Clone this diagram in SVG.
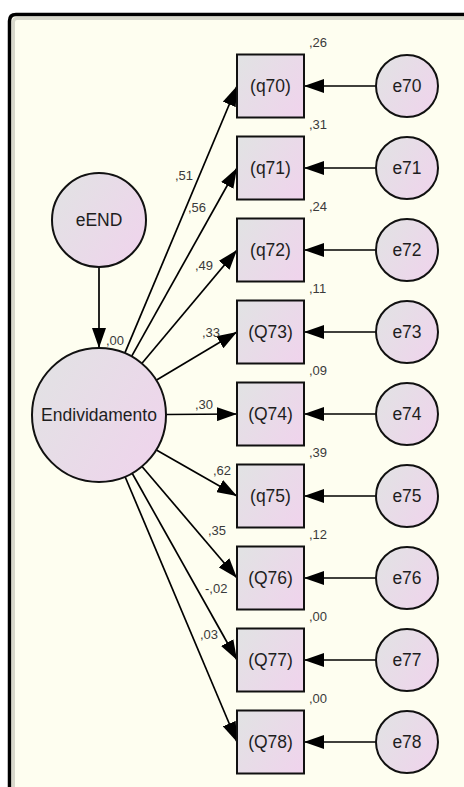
<svg xmlns="http://www.w3.org/2000/svg" width="464" height="787" viewBox="0 0 464 787">
  <style>
    .node { stroke: #111; stroke-width: 2; fill: url(#nodeFill); }
    .lbl { font-family: "Liberation Sans", Arial, sans-serif; font-size: 17.5px; fill: #1e1e1e; text-anchor: middle; dominant-baseline: central; }
    .num { font-family: "Liberation Sans", Arial, sans-serif; font-size: 13px; fill: #3a3a3a; }
    .path { stroke: #000; stroke-width: 1.7; fill: none; marker-end: url(#head); }
  </style>
  <defs>
    <linearGradient id="nodeFill" x1="0" y1="0.2" x2="1" y2="0.8">
      <stop offset="0" stop-color="#e2e2e4"/>
      <stop offset="1" stop-color="#efd4ec"/>
    </linearGradient>
    <marker id="head" viewBox="0 0 20 14" refX="20" refY="7" markerWidth="20" markerHeight="14" markerUnits="userSpaceOnUse" orient="auto">
      <path d="M0,0 L20,7 L0,14 Z" fill="#000"/>
    </marker>
  </defs>

  <!-- page and frame -->
  <rect x="0" y="0" width="464" height="787" fill="#ffffff"/>
  <path d="M9.5,790 V21 Q9.5,14.5 16,14.5 H470 V790 Z" fill="#fefef0"/>
  <path d="M13.5,790 V22 Q13.5,18.5 17,18.5 H470" fill="none" stroke="#c8c8bc" stroke-width="3" opacity="0.7"/>
  <path d="M9.5,790 V21 Q9.5,14.5 16,14.5 H470" fill="none" stroke="#000" stroke-width="3.5"/>

  <!-- connectors -->
  <g id="connectors">
    <line class="path" x1="99" y1="267" x2="99" y2="348"/>
    <line class="path" x1="124.8" y1="353.2" x2="237" y2="86"/>
    <line class="path" x1="131.6" y1="356.4" x2="237" y2="168"/>
    <line class="path" x1="141.8" y1="363.5" x2="237" y2="250"/>
    <line class="path" x1="156.2" y1="380.2" x2="237" y2="332"/>
    <line class="path" x1="166" y1="414.5" x2="237" y2="414"/>
    <line class="path" x1="156.4" y1="450" x2="237" y2="496"/>
    <line class="path" x1="142" y1="466.5" x2="237" y2="578"/>
    <line class="path" x1="132" y1="473" x2="237" y2="660"/>
    <line class="path" x1="125" y1="476.5" x2="237" y2="742"/>
    <line class="path" x1="376" y1="86" x2="304" y2="86"/>
    <line class="path" x1="376" y1="168" x2="304" y2="168"/>
    <line class="path" x1="376" y1="250" x2="304" y2="250"/>
    <line class="path" x1="376" y1="332" x2="304" y2="332"/>
    <line class="path" x1="376" y1="414" x2="304" y2="414"/>
    <line class="path" x1="376" y1="496" x2="304" y2="496"/>
    <line class="path" x1="376" y1="578" x2="304" y2="578"/>
    <line class="path" x1="376" y1="660" x2="304" y2="660"/>
    <line class="path" x1="376" y1="742" x2="304" y2="742"/>
  </g>

  <!-- path coefficients -->
  <g id="coefficients">
    <text class="num" x="106" y="345">,00</text>
    <text class="num" x="175" y="180">,51</text>
    <text class="num" x="188" y="212">,56</text>
    <text class="num" x="195" y="270">,49</text>
    <text class="num" x="202" y="337">,33</text>
    <text class="num" x="195" y="409">,30</text>
    <text class="num" x="213" y="475">,62</text>
    <text class="num" x="208" y="535">,35</text>
    <text class="num" x="205" y="593">-,02</text>
    <text class="num" x="200" y="639">,03</text>
  </g>

  <!-- latent variables -->
  <g id="eEND"><circle class="node" cx="99" cy="220" r="47"/><text class="lbl" x="99" y="220">eEND</text></g>
  <g id="Endividamento"><circle class="node" cx="99" cy="415" r="67"/><text class="lbl" x="99" y="415">Endividamento</text></g>

  <!-- observed items with squared multiple correlations -->
  <g id="q70"><rect class="node" x="237" y="54.5" width="67" height="63"/><text class="lbl" x="270.5" y="86">(q70)</text><text class="num" x="309" y="47">,26</text></g>
  <g id="q71"><rect class="node" x="237" y="136.5" width="67" height="63"/><text class="lbl" x="270.5" y="168">(q71)</text><text class="num" x="309" y="129">,31</text></g>
  <g id="q72"><rect class="node" x="237" y="218.5" width="67" height="63"/><text class="lbl" x="270.5" y="250">(q72)</text><text class="num" x="309" y="211">,24</text></g>
  <g id="Q73"><rect class="node" x="237" y="300.5" width="67" height="63"/><text class="lbl" x="270.5" y="332">(Q73)</text><text class="num" x="309" y="293">,11</text></g>
  <g id="Q74"><rect class="node" x="237" y="382.5" width="67" height="63"/><text class="lbl" x="270.5" y="414">(Q74)</text><text class="num" x="309" y="375">,09</text></g>
  <g id="q75"><rect class="node" x="237" y="464.5" width="67" height="63"/><text class="lbl" x="270.5" y="496">(q75)</text><text class="num" x="309" y="457">,39</text></g>
  <g id="Q76"><rect class="node" x="237" y="546.5" width="67" height="63"/><text class="lbl" x="270.5" y="578">(Q76)</text><text class="num" x="309" y="539">,12</text></g>
  <g id="Q77"><rect class="node" x="237" y="628.5" width="67" height="63"/><text class="lbl" x="270.5" y="660">(Q77)</text><text class="num" x="309" y="621">,00</text></g>
  <g id="Q78"><rect class="node" x="237" y="710.5" width="67" height="63"/><text class="lbl" x="270.5" y="742">(Q78)</text><text class="num" x="309" y="703">,00</text></g>

  <!-- error terms -->
  <g id="e70"><circle class="node" cx="407" cy="86" r="31"/><text class="lbl" x="407" y="86">e70</text></g>
  <g id="e71"><circle class="node" cx="407" cy="168" r="31"/><text class="lbl" x="407" y="168">e71</text></g>
  <g id="e72"><circle class="node" cx="407" cy="250" r="31"/><text class="lbl" x="407" y="250">e72</text></g>
  <g id="e73"><circle class="node" cx="407" cy="332" r="31"/><text class="lbl" x="407" y="332">e73</text></g>
  <g id="e74"><circle class="node" cx="407" cy="414" r="31"/><text class="lbl" x="407" y="414">e74</text></g>
  <g id="e75"><circle class="node" cx="407" cy="496" r="31"/><text class="lbl" x="407" y="496">e75</text></g>
  <g id="e76"><circle class="node" cx="407" cy="578" r="31"/><text class="lbl" x="407" y="578">e76</text></g>
  <g id="e77"><circle class="node" cx="407" cy="660" r="31"/><text class="lbl" x="407" y="660">e77</text></g>
  <g id="e78"><circle class="node" cx="407" cy="742" r="31"/><text class="lbl" x="407" y="742">e78</text></g>
</svg>
